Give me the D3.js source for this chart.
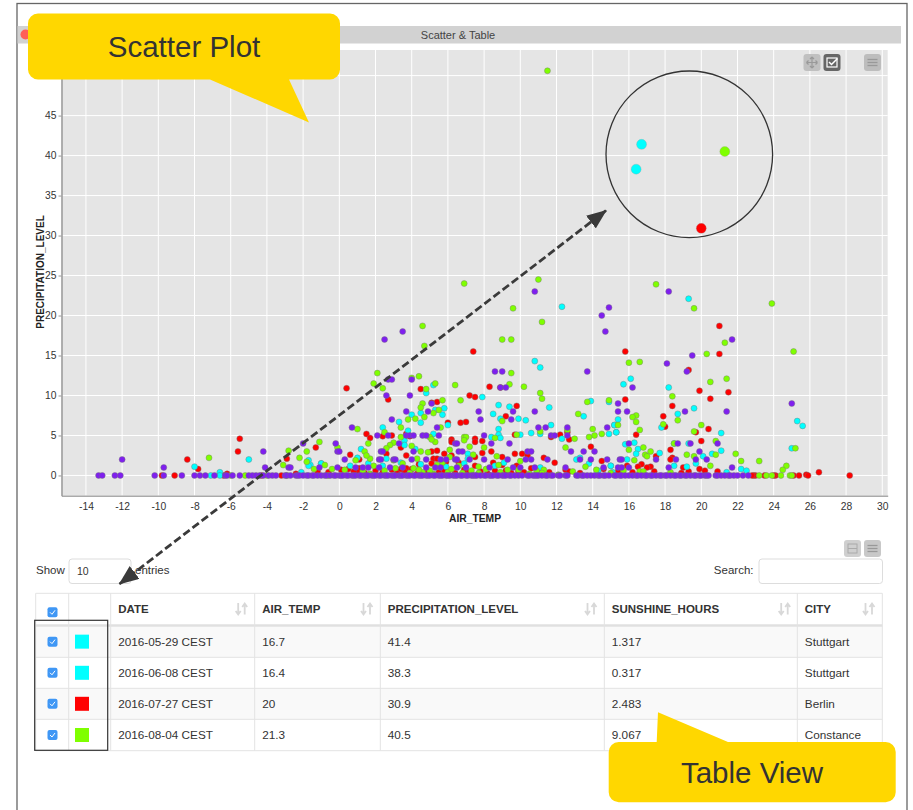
<!DOCTYPE html>
<html>
<head>
<meta charset="utf-8">
<script src="https://cdnjs.cloudflare.com/ajax/libs/d3/7.8.5/d3.min.js"></script>
<style>
  html, body { margin: 0; padding: 0; background: #fff; }
  svg { display: block; font-family: "Liberation Sans", Arial, sans-serif; }
  .tick text { font-size: 10.3px; fill: #333; }
</style>
</head>
<body>
<div id="chart"></div>
<script>
// values: [AIR_TEMP, PRECIPITATION_LEVEL]
const greenPoints = [[11.5,50.6],[6.9,24],[11,24.5],[9.6,20.9],[11.2,19.2],[4.6,18.7],[4.7,16.2],[9,17],[9.5,17],[9.5,12.8],[2.1,12.8],[1.9,11.5],[2.4,10.9],[4.4,12.4],[4,12.2],[4.8,10.8],[5.3,11.5],[6.4,11.3],[9.4,11.4],[10.2,11.1],[11.1,10.3],[11.2,9.6],[6.7,9.4],[5.7,9.4],[13.7,9.2],[14.9,9.4],[4.6,9],[4.5,8.5],[5.5,8.2],[5.2,7.8],[4.2,7.1],[4.7,7.3],[3.8,7],[13.2,7.7],[11.1,5.5],[9,6.8],[12.6,5.7],[14,5.8],[14.5,5.2],[14.1,5],[13.8,4.8],[6.9,4.8],[7,4.8],[6.9,4.4],[8.6,4.7],[9.8,5.1],[13,4.6],[12.5,3.5],[3.4,6],[5.6,6],[2.5,5.4],[3.4,4.8],[1.6,4],[1,5.8],[3,4.1],[2.8,3.8],[2.6,3.4],[4,3.7],[5,4.8],[5.3,4.2],[5.1,4.5],[-0.1,3.5],[1.4,3],[1.7,2.1],[1.5,2.5],[0.9,1.9],[6.1,3.2],[7.2,3.6],[8,3.5],[4.5,3],[4.9,2.9],[-0.8,1.3],[-0.4,0.8],[0.3,0.7],[1.9,1.2],[3.5,1.5],[4.1,0.9],[5.7,1.6],[6.6,1.2],[7.7,1.1],[8.8,1.3],[9.9,0.7],[11.3,0.7],[13.6,1.1],
  [17.5,23.9],[23.9,21.5],[19.6,20.9],[21.3,16.6],[20.3,15.2],[25.1,15.5],[16,14.1],[16.6,14.2],[21.4,12.1],[20.5,11.7],[18.4,9.9],[16.4,7.5],[16.2,7.3],[16.4,6.7],[18.7,6.9],[17.9,6.4],[20,6.3],[15.4,6.3],[16.6,5.7],[19.6,5.5],[20.8,4.3],[18.5,4],[25.2,3.4],[16,3.2],[16.8,3.5],[17.2,3],[16.9,2.6],[17,2.4],[19.2,2.6],[19.6,2.4],[20.8,2.6],[21.9,2.7],[22.2,1.8],[23.2,1.8],[20.5,1.2],[24.7,1.2],[24.5,0.7],[16.3,1.9],[15.7,0.6],[16.6,0.5],[16.8,0.5],[18.3,0.4],
  [-7.2,2.2],[-2.8,3.1],[-1.8,3],[-1.1,4.2],[-3.1,1.3],[-2.2,2.2],[-1.8,1.7],[-1.4,0.8],
  [-0.6,0],[1.7,0.2],[3.9,0.3],[4.6,0.4],[5.2,0.2],[6,0.4],[6.8,0.3],[7.7,0.3],[8.9,0.4],[10.5,0.2],[11.2,0.3],[12.1,0.1],[15,0.3],[-6,0],[-5.2,0],[-4,0],[-2.9,0],[23.2,0],[23.6,0],[24.4,0],[24.9,0],[25,0],[23.9,0],
  [1.3,0.5],[2.5,0.6],[3.1,0.9],[4.4,0.7],[5,0.6],[5.4,1.3],[6.2,0.8],[7.3,0.6],[8.1,0.8],[9.3,0.7],[10.9,0.6],[12.9,0.5],[14.2,0.7],[3,1.9],[4.3,2.1],[6.1,2.3],[7.4,2.6],[8.7,2.4],[10,1.8]];

const purplePoints = [[10.8,23],[14.9,21],[14.5,20],[14.7,18],[3.5,18],[2.5,17],[8.6,13],[9,13],[13.7,13],[2.7,12],[2.9,12],[4,12],[8.9,11],[9.2,11],[2.6,10],[3.9,10],[5.1,9],[15.4,9],[7.7,8],[3.7,8],[4.9,8],[9.6,8],[10.8,8],[2.9,7],[7.8,7],[9.5,7],[0.7,6],[5.4,6],[11,6],[11.4,6],[14.8,6],[12.6,6],[2.1,5],[2.7,5],[3.7,5],[3.9,5],[4.1,5],[4.6,5],[4.8,5],[5.5,5],[8,5],[11.7,5],[11.9,5],[12.6,5],[-0.2,4],[3.3,4],[6.4,4],[6.5,4],[8.4,4],[9.4,4],[-0.1,3],[0,3],[2.3,3],[2.4,3],[4.1,3],[6.6,3],[6.8,3],[10.4,3],[10.6,3],[12.8,3],[13.5,3],[14.1,3],[0.3,2],[2.2,2],[2.3,2],[3,2],[3.1,2],[4,2],[4.8,2],[5.6,2],[5.9,2],[6.4,2],[6.5,2],[7.2,2],[8,2],[9.3,2],[10.3,2],[10.6,2],[11.5,2],[13.3,2],[13.9,2],[14.8,2],[-0.1,1],[0.9,1],[1.3,1],[1.6,1],[2.2,1],[2.8,1],[3.5,1],[4.8,1],[5.3,1],[5.6,1],[6.5,1],[7,1],[8.3,1],[9.6,1],[10,1],[10.8,1],[12.5,1],[14.6,1],
  [18.2,23],[21.7,17],[19.5,15],[18.1,14],[19.2,13],[16.2,11],[25,9],[19.1,8],[15.4,8],[15.9,8],[21.4,8],[16,4],[18.7,4],[19.4,4],[20.9,4],[19.9,3],[19.7,2],[20.3,2],[18.6,2],[17.5,2],[15.5,2],[15.6,2],[18.2,1],[21.7,1],[15.4,1],[15.6,1],[16,1],
  [-12,2],[-9.7,1],[-4.1,1],[-4.2,3],[-2,4],[-2.8,1],[-2.7,1],[-1.1,1]];

const purpleAtZero = [-13.3,-13.1,-12.4,-12.1,-10.2,-9.7,-8.7,-8,-7.7,-7.4,-6.9,-6.3,-6.2,-5.9,-5.5,-5,-4.8,-4.6,-4.4,-4.2,-3.9,-3.7,-3.5,-3,-2.9,-2.7,-2.4,-2.3,-2.2,-2,-1.8,-1.7,-1.5,-1.4,-1.2,-1,-0.8,-0.7,-0.5,-0.3,-0.2,0,0.1,0.2,0.4,0.5,0.7,0.8,0.9,1.1,1.2,1.4,1.5,1.6,1.8,1.9,2,2.2,2.3,2.5,2.6,2.7,2.9,3,3.1,3.3,3.4,3.5,3.7,3.8,3.9,4.1,4.2,4.4,4.5,4.6,4.8,4.9,5,5.2,5.3,5.5,5.6,5.7,5.9,6,6.1,6.3,6.4,6.5,6.7,6.8,7,7.1,7.3,7.4,7.5,7.6,7.8,8,8.1,8.3,8.4,8.5,8.7,8.8,9,9.1,9.2,9.4,9.5,9.7,9.9,10.1,10.4,10.5,10.7,10.8,10.9,11,11.2,11.4,11.5,11.7,11.8,12.1,12.2,12.5,12.6,13.1,13.2,13.4,13.5,13.7,13.9,14.1,14.3,14.4,14.6,14.7,14.9,15.2,15.3,15.5,15.6,15.8,16,16.2,16.4,16.5,16.7,16.9,17,17.2,17.3,17.5,17.7,17.8,18,18.1,18.3,18.5,18.6,18.8,18.9,19.1,19.2,19.4,19.6,19.7,19.9,20,20.2,20.3,20.4,20.8,20.9,21.1,21.3,21.5,21.6,21.8,22,22.3,22.6];

const redPoints = [[21,18.7],[15.8,15.5],[21,15.2],[19.3,13.2],[19.9,10.6],[21.5,10.4],[20.5,9.6],[15.8,9.5],[18.4,8.7],[17.9,7.4],[18,6.1],[19.7,5.4],[20.4,5.8],[16.4,5.1],[20,4.3],[18.3,3.2],[17.5,2.4],[18.4,2.2],[18.3,2],[16.7,1.4],[16.5,1.1],[17.2,1.1],[17,1],[15.9,1.2],[19,1],[19.9,0.8],[20.2,0.6],[20.9,0.5],[26.5,0.4],[25.8,0.1],[17.4,0.5],[19.3,0.5],
  [7.4,15.5],[0.4,10.9],[8.3,11.1],[8.9,11],[4.5,10.8],[7.2,10],[7.5,9.8],[2.7,9.5],[5.1,9.1],[5.4,9.2],[9.8,8.7],[9.2,7.4],[6,6.6],[6.7,6.6],[7,6.7],[1.5,5.2],[1.7,4.7],[2.4,4.9],[2.9,5],[3.7,5.2],[3.9,4.9],[6.2,4.5],[6.2,4.2],[7.5,4.6],[7.5,4.2],[7.9,4.3],[9.7,5.1],[11.7,4.8],[12.2,5.1],[12.6,5.4],[12.7,4.5],[13.9,3.6],[3.4,3.5],[5.1,3],[5.4,3.1],[0.6,2.6],[2.6,2.7],[3.7,2.5],[5.2,2.1],[5.4,2.1],[5.8,2.7],[6.2,2.5],[7.5,2.3],[7.9,2.8],[8.4,3],[9,2.3],[9.7,2.7],[10.1,2.7],[10.4,2.5],[11.3,2.2],[11.9,1.6],[14.5,1.8],[1.1,2],[1.1,0.9],[0.5,0.8],[0.1,0.7],[3.7,0.9],[4,0.8],[4.4,1.4],[5.1,1.5],[5.9,1.7],[6.6,1.6],[7.5,1.2],[8.5,1.6],[9,1.3],[9.8,1.2],[10.6,0.9],[12.5,0.7],[12.7,0.5],[14.6,0.8],
  [-8.4,2],[-7.8,0.8],[-5.5,4.6],[-5.6,3],[-2.9,2.1],[-1.3,3.5],[-1.2,0.5],[-6.2,0.2],[-0.6,0.4],[-2.4,0.2],
  [1,0.4],[1.4,0.3],[2.4,0.4],[3.2,0.3],[3.6,0.5],[4.3,0.2],[5.5,0.4],[6.4,0.3],[7.1,0.4],[8.2,0.2],[9.5,0.3],[10.2,0.4],
  [-9.8,0],[-9.1,0],[-6.4,0],[-4.3,0],[-3.2,0],[28.2,0],[25.9,0],[25.4,0],[25.1,0],[24.1,0],[24,0],[23.5,0],[23,0],[22.9,0],[22.8,0],
  [0.8,0.5],[2,0.6],[2.9,0.7],[3.4,0.8],[4.9,0.5],[5.8,0.6],[6.9,0.7],[7.8,0.5],[8.6,0.6],[9.2,0.6],[9.9,0.5],[11,0.6],[11.6,0.4],[13.3,0.3],[15.4,0.5],[16.2,0.4],[18.9,0.3]];

const cyanPoints = [[19.3,22.1],[16.1,12.1],[15.7,11.4],[18.2,11],[19.6,8.4],[18.7,7.7],[15.4,7],[15.2,6.3],[17.8,6],[25.3,6.8],[25.6,6.2],[15.3,5.4],[21.1,5.3],[16.3,4.1],[15.8,3.9],[18.5,4],[19.3,4],[25,3.4],[16.5,3.3],[16.4,2.7],[21.1,3.1],[17.7,2.8],[20.1,2.4],[20.6,2.7],[15.9,2],[19.7,1.5],[18.5,1.2],[19.2,1.1],[15,1.2],[22.2,0.8],[22.5,0.6],[21.4,0.4],[15.1,0.4],
  [12.3,21.1],[10.8,14.3],[11.1,13.5],[5.2,11.3],[4.8,10.3],[7.9,9.8],[8.8,8.8],[9.4,8.6],[11.6,8.5],[13.9,9.3],[14.9,9.2],[5.8,8.4],[5.3,8.2],[5.7,7.6],[4.5,7.8],[4,7.6],[8.5,7.7],[13.5,7.4],[8.9,7.1],[9.9,7.1],[10.3,6.9],[3.3,6.7],[4.5,6.6],[6,6.3],[2.4,6],[3.8,5.6],[8.8,5.8],[11.7,6.3],[15.2,6.3],[5.2,5.2],[8.8,5.1],[8.9,4.7],[8.4,4.8],[10,5.1],[10.6,5.3],[11.1,5.2],[12.3,4.6],[14.9,5.2],[15.3,5.4],[3.6,4.4],[1.2,3.3],[4.2,3.3],[3.6,3.8],[7.1,2.7],[2.6,2.1],[7.1,2.1],[1,2.2],[1.6,1.5],[-1,1.5],[13.1,2],[13.3,2.2],[13.8,1.5],[15,1.2],[14.3,0.6],[11.1,1],
  [3.4,1.6],[4.5,1.4],[5.9,1.1],[6.9,1.5],[8.6,1.2],[9.1,1.6],[0.6,1.2],[2.4,1.2],
  [-8,1.1],[-6.6,0.4],[-5,2],[-1.7,1.9],[-1.6,1.3],[-1.7,1.2],[-1,1.5],[-2.1,0.4],[-7.1,0],[-6.6,0]];

// the four rows of the table, these are also the big dots
const tableDates = ["2016-05-29 CEST", "2016-06-08 CEST", "2016-07-27 CEST", "2016-08-04 CEST"];
const tableTemps = [16.7, 16.4, 20, 21.3];
const tablePrecip = [41.4, 38.3, 30.9, 40.5];
const tableSun = ["1.317", "0.317", "2.483", "9.067"];
const tableCities = ["Stuttgart", "Stuttgart", "Berlin", "Constance"];
const tableColors = ["#00ffff", "#00ffff", "#ff0000", "#7fff00"];

const xTicks = [-14,-12,-10,-8,-6,-4,-2,0,2,4,6,8,10,12,14,16,18,20,22,24,26,28,30];
const yTicks = [0,5,10,15,20,25,30,35,40,45,50];
const headers = ["DATE", "AIR_TEMP", "PRECIPITATION_LEVEL", "SUNSHINE_HOURS", "CITY"];

const width = 913, height = 810;
const plot = { left: 61.5, right: 887.7, top: 50, bottom: 495.7 };

const svg = d3.select("#chart").append("svg")
  .attr("width", width)
  .attr("height", height);

// window frame and title bar
svg.append("rect").attr("x", 17).attr("y", 3.5).attr("width", 890).attr("height", 820)
  .attr("fill", "#fff").attr("stroke", "#666").attr("stroke-width", 1.3);
svg.append("rect").attr("x", 17.5).attr("y", 26).attr("width", 883.5).attr("height", 17.5).attr("fill", "#d2d2d2");
svg.append("circle").attr("cx", 25.5).attr("cy", 34.5).attr("r", 5).attr("fill", "#ff5f57");
svg.append("text").attr("x", 458).attr("y", 38.5).attr("text-anchor", "middle")
  .attr("font-size", 11).attr("fill", "#444").text("Scatter & Table");

// scales
const x = d3.scaleLinear().domain([-15.35, 30.3]).range([plot.left, plot.right]);
const y = d3.scaleLinear().domain([-2.53, 53.2]).range([plot.bottom, plot.top]);

svg.append("rect")
  .attr("x", plot.left).attr("y", plot.top)
  .attr("width", plot.right - plot.left).attr("height", plot.bottom - plot.top)
  .attr("fill", "#e5e5e5");

// grid
svg.selectAll(".gridX").data(xTicks).enter().append("line")
  .attr("class", "gridX")
  .attr("x1", d => x(d)).attr("x2", d => x(d))
  .attr("y1", plot.top).attr("y2", plot.bottom)
  .attr("stroke", "#fff").attr("stroke-width", 1);
svg.selectAll(".gridY").data(yTicks).enter().append("line")
  .attr("class", "gridY")
  .attr("x1", plot.left).attr("x2", plot.right)
  .attr("y1", d => y(d)).attr("y2", d => y(d))
  .attr("stroke", "#fff").attr("stroke-width", 1);

// axes, plain hyphen on the negative labels like the original
const xAxis = d3.axisBottom(x).tickValues(xTicks).tickSize(0).tickPadding(7).tickFormat(d => String(d));
const yAxis = d3.axisLeft(y).tickValues(yTicks).tickSize(3).tickSizeOuter(0).tickPadding(2).tickFormat(d => String(d));

const gx = svg.append("g").attr("transform", "translate(0," + plot.bottom + ")").call(xAxis);
const gy = svg.append("g").attr("transform", "translate(" + plot.left + ",0)").call(yAxis);
gx.select(".domain").attr("stroke", "#aaa").attr("stroke-width", 1.5);
gy.select(".domain").attr("stroke", "#999").attr("stroke-width", 1.5);
gy.selectAll(".tick line").attr("stroke", "#999");
gx.selectAll(".tick text").attr("font-family", "Liberation Sans");
gy.selectAll(".tick text").attr("font-family", "Liberation Sans");

svg.append("text").attr("x", 475).attr("y", 522).attr("text-anchor", "middle")
  .attr("font-size", 10.3).attr("font-weight", "bold").attr("fill", "#222").text("AIR_TEMP");
svg.append("text").attr("transform", "translate(44,272) rotate(-90)").attr("text-anchor", "middle")
  .attr("font-size", 10).attr("font-weight", "bold").attr("fill", "#222").text("PRECIPITATION_LEVEL");

// points
function drawPoints(points, color) {
  svg.append("g").selectAll("circle").data(points).enter().append("circle")
    .attr("cx", d => x(d[0]))
    .attr("cy", d => y(d[1]))
    .attr("r", 3)
    .attr("fill", color)
    .attr("stroke", "#777")
    .attr("stroke-opacity", 0.7)
    .attr("stroke-width", 0.6);
}
drawPoints(redPoints, "#ff0000");
drawPoints(cyanPoints, "#00ffff");
drawPoints(greenPoints, "#7fff00");
drawPoints(purplePoints, "#7f1fef");
drawPoints(purpleAtZero.map(d => [d, 0]), "#7f1fef");

// selected points
svg.append("g").selectAll("circle").data(tableTemps).enter().append("circle")
  .attr("cx", d => x(d))
  .attr("cy", (d, i) => y(tablePrecip[i]))
  .attr("r", 5)
  .attr("fill", (d, i) => tableColors[i])
  .attr("stroke", "#999")
  .attr("stroke-opacity", 0.6)
  .attr("stroke-width", 0.5);

// little toolbar buttons
function button(bx, by, fill, kind) {
  const g = svg.append("g").attr("transform", "translate(" + bx + "," + by + ")");
  g.append("rect").attr("width", 17).attr("height", 17).attr("rx", 3).attr("fill", fill);
  if (kind == "menu") {
    [5, 8, 11].forEach(d => g.append("line").attr("x1", 3.5).attr("x2", 13.5).attr("y1", d + 0.5).attr("y2", d + 0.5)
      .attr("stroke", "#999").attr("stroke-width", 1.3));
  } else if (kind == "move") {
    g.append("path").attr("d", "M8.5 3V14M3 8.5H14M8.5 3l-2 2M8.5 3l2 2M8.5 14l-2-2M8.5 14l2-2M3 8.5l2-2M3 8.5l2 2M14 8.5l-2-2M14 8.5l-2 2")
      .attr("fill", "none").attr("stroke", "#999").attr("stroke-width", 1.2);
  } else if (kind == "check") {
    g.append("rect").attr("x", 3.5).attr("y", 4).attr("width", 10).attr("height", 9).attr("fill", "none").attr("stroke", "#fff").attr("stroke-width", 1.2);
    g.append("path").attr("d", "M5.5 8l2.5 2.5L14 4.5").attr("fill", "none").attr("stroke", "#fff").attr("stroke-width", 1.5);
  } else if (kind == "box") {
    g.append("rect").attr("x", 4).attr("y", 4).attr("width", 9).attr("height", 9).attr("fill", "none").attr("stroke", "#aaa");
    g.append("line").attr("x1", 4).attr("x2", 13).attr("y1", 8.5).attr("y2", 8.5).attr("stroke", "#aaa");
  }
}
button(803.5, 54, "#c0c0c0", "move");
button(823.5, 54, "#666", "check");
button(864, 54, "#bdbdbd", "menu");
button(844, 540, "#cfcfcf", "box");
button(864, 540, "#c8c8c8", "menu");

// controls above the table
function inputBox(bx, w) {
  svg.append("rect").attr("x", bx).attr("y", 559).attr("width", w).attr("height", 24.5).attr("rx", 3)
    .attr("fill", "#fff").attr("stroke", "#ddd");
}
svg.append("text").attr("x", 36).attr("y", 574).attr("font-size", 11.5).attr("fill", "#333").text("Show");
inputBox(69, 62);
svg.append("text").attr("x", 77).attr("y", 575).attr("font-size", 10.5).attr("fill", "#333").text("10");
svg.append("text").attr("x", 135).attr("y", 574).attr("font-size", 11.5).attr("fill", "#333").text("entries");
svg.append("text").attr("x", 753.5).attr("y", 574).attr("text-anchor", "end").attr("font-size", 11.5).attr("fill", "#333").text("Search:");
inputBox(759, 123.5);

// table
const colX = [35.7, 68.7, 110.7, 254.7, 380.3, 604.3, 797.3, 882.3];
const rowY = [626, 657.3, 688.3, 719.3, 750.7];
const headTop = 593.3;

svg.selectAll(".stripe").data([0, 2]).enter().append("rect")
  .attr("class", "stripe")
  .attr("x", colX[0]).attr("y", d => rowY[d])
  .attr("width", colX[7] - colX[0]).attr("height", d => rowY[d + 1] - rowY[d])
  .attr("fill", "#f9f9f9");

svg.selectAll(".rowLine").data([headTop].concat(rowY.slice(1))).enter().append("line")
  .attr("class", "rowLine")
  .attr("x1", colX[0]).attr("x2", colX[7])
  .attr("y1", d => d).attr("y2", d => d)
  .attr("stroke", "#e3e3e3").attr("stroke-width", 1);
svg.append("line").attr("x1", colX[0]).attr("x2", colX[7]).attr("y1", 625.5).attr("y2", 625.5)
  .attr("stroke", "#e0e0e0").attr("stroke-width", 2.5);
svg.selectAll(".colLine").data(colX).enter().append("line")
  .attr("class", "colLine")
  .attr("x1", d => d).attr("x2", d => d)
  .attr("y1", headTop).attr("y2", rowY[4])
  .attr("stroke", "#e3e3e3").attr("stroke-width", 1);

svg.selectAll(".head").data(headers).enter().append("text")
  .attr("class", "head")
  .attr("x", (d, i) => colX[i + 2] + 7.5)
  .attr("y", 613)
  .attr("font-size", 11.5).attr("font-weight", "bold").attr("fill", "#333")
  .text(d => d);

// sort arrows drawn by hand, the font ones came out too small
const sortX = [241.7, 367, 591, 784.7, 869];
svg.selectAll(".sort").data(sortX).enter().append("path")
  .attr("class", "sort")
  .attr("transform", d => "translate(" + d + ",609)")
  .attr("d", "M-3.5 -6V4M-6 2L-3.5 5.5L-1 2M3 5.5V-5.5M0.5 -2L3 -5.5L5.5 -2")
  .attr("fill", "none").attr("stroke", "#d8d8d8").attr("stroke-width", 1.8);

function checkbox(cy) {
  svg.append("rect").attr("x", 47.5).attr("y", cy - 5).attr("width", 10).attr("height", 10).attr("rx", 2).attr("fill", "#3f97f5");
  svg.append("path").attr("transform", "translate(52.5," + cy + ")").attr("d", "M-2.5 0l2 2l3-4")
    .attr("fill", "none").attr("stroke", "#fff").attr("stroke-width", 1);
}
checkbox(612.3);

const rowCenter = i => (rowY[i] + rowY[i + 1]) / 2;
tableDates.forEach((d, i) => checkbox(rowCenter(i)));
svg.selectAll(".swatch").data(tableColors).enter().append("rect")
  .attr("class", "swatch")
  .attr("x", 75).attr("y", (d, i) => rowCenter(i) - 7)
  .attr("width", 14).attr("height", 14).attr("fill", d => d);

[tableDates, tableTemps, tablePrecip, tableSun, tableCities].forEach((col, c) => {
  svg.append("g").selectAll("text").data(col).enter().append("text")
    .attr("x", colX[c + 2] + 7.5)
    .attr("y", (d, i) => rowCenter(i) + 4.3)
    .attr("font-size", 11.75).attr("fill", "#333")
    .text(d => d);
});

// box around check column
svg.append("rect").attr("x", 34.7).attr("y", 620.3).attr("width", 73).attr("height", 130)
  .attr("fill", "none").attr("stroke", "#333").attr("stroke-width", 1.2);

// annotation circle and arrow
svg.append("circle").attr("cx", 689.3).attr("cy", 154.3).attr("r", 83.3)
  .attr("fill", "none").attr("stroke", "#333").attr("stroke-width", 1.3);

const defs = svg.append("defs");
defs.append("marker").attr("id", "head").attr("viewBox", "0 0 20 16")
  .attr("refX", 19).attr("refY", 8).attr("markerWidth", 20).attr("markerHeight", 16)
  .attr("markerUnits", "userSpaceOnUse").attr("orient", "auto-start-reverse")
  .append("path").attr("d", "M0 0L20 8L0 16Z").attr("fill", "#3a3a3a");
svg.append("line").attr("x1", 119.5).attr("y1", 584).attr("x2", 606).attr("y2", 210.5)
  .attr("stroke", "#3a3a3a").attr("stroke-width", 2.8).attr("stroke-dasharray", "8,3.5")
  .attr("marker-start", "url(#head)").attr("marker-end", "url(#head)");

// yellow callouts
function callout(path, tx, ty, label) {
  svg.append("path").attr("d", path).attr("fill", "#ffd700");
  svg.append("text").attr("x", tx).attr("y", ty).attr("text-anchor", "middle")
    .attr("font-size", 29.5).attr("fill", "#333").text(label);
}
callout("M38 13.5H330a10 10 0 0 1 10 10V69.5a10 10 0 0 1-10 10H289L309 122.5L210 79.5H38a10 10 0 0 1-10-10V23.5a10 10 0 0 1 10-10Z",
  184, 57, "Scatter Plot");
callout("M618.7 742H656.7L658 712.3L728 742H885.7a10 10 0 0 1 10 10V792.3a10 10 0 0 1-10 10H618.7a10 10 0 0 1-10-10V752a10 10 0 0 1 10-10Z",
  752, 783, "Table View");
</script>
</body>
</html>
